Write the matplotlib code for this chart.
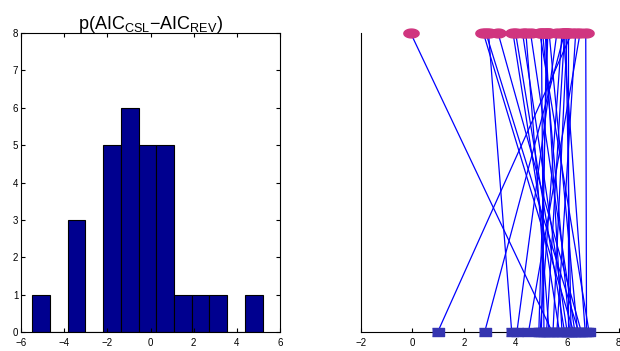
import matplotlib
matplotlib.use('Agg')
import numpy as np
import matplotlib.pyplot as plt

plt.rcParams['font.family'] = ['Liberation Sans', 'DejaVu Sans']
plt.rcParams['mathtext.fontset'] = 'custom'
plt.rcParams['mathtext.rm'] = 'Liberation Sans'

# AIC values per dataset: top row (CSL) and bottom row (REV)
aic_csl = [-0.07, 2.75, 2.85, 3.32, 2.95, 3.90, 4.00, 4.27, 4.58, 4.94,
           4.40, 5.05, 5.15, 5.30, 5.85, 5.00, 5.20, 5.95, 6.05, 6.72,
           5.90, 6.00, 6.33, 5.25, 5.80, 5.60, 6.50, 5.90, 6.18]
aic_rev = [5.42, 6.25, 6.45, 6.55, 3.85, 5.70, 5.90, 6.00, 6.30, 6.85,
           5.30, 6.10, 5.80, 6.40, 6.70, 5.10, 5.00, 6.15, 6.05, 6.75,
           5.20, 5.45, 5.60, 4.90, 4.95, 4.05, 4.50, 2.80, 0.98]

aic_csl = np.array(aic_csl)
aic_rev = np.array(aic_rev)
diff = aic_csl - aic_rev

fig = plt.figure(figsize=(6.2, 3.51), dpi=100)

# left: histogram of differences
ax1 = fig.add_axes([0.0339, 0.054, 0.4177, 0.852])
ax1.hist(diff, bins=13, color='#00008F', edgecolor='black', linewidth=0.8)
ax1.set_xlim(-6, 6)
ax1.set_ylim(0, 8)
ax1.set_xticks(np.arange(-6, 7, 2))
ax1.set_yticks(np.arange(0, 9, 1))
ax1.tick_params(direction='in', top=True, right=True, labelsize=7, length=3, pad=2)
ax1.tick_params(axis='x', pad=4)
ax1.set_title(r'p(AIC$_{\rm CSL}$$-$AIC$_{\rm REV}$)', fontsize=13, pad=3)

# right: lines linking each pair
ax2 = fig.add_axes([0.582, 0.054, 0.416, 0.852])
for a, b in zip(aic_csl, aic_rev):
    ax2.plot([b, a], [0, 8], color='#0000FF', linewidth=0.9)
t = np.linspace(0, 2 * np.pi, 40)
ellipse = list(zip(np.cos(t), 0.58 * np.sin(t)))
ax2.plot(aic_csl, np.full(len(aic_csl), 8), linestyle='none', marker=ellipse,
         markersize=11, color='#D0357F', clip_on=False, zorder=3)
ax2.plot(aic_rev, np.zeros(len(aic_rev)), linestyle='none', marker=[(-1, -0.7), (1, -0.7), (1, 0.7), (-1, 0.7)],
         markersize=8, color='#3535B0', clip_on=False, zorder=3)
ax2.set_xlim(-2, 8)
ax2.set_ylim(0, 8)
ax2.set_xticks(np.arange(-2, 9, 2))
ax2.set_yticks([])
ax2.spines['top'].set_visible(False)
ax2.spines['right'].set_visible(False)
ax2.tick_params(direction='in', labelsize=7, length=3, pad=4)

fig.savefig('out.png', dpi=100)
